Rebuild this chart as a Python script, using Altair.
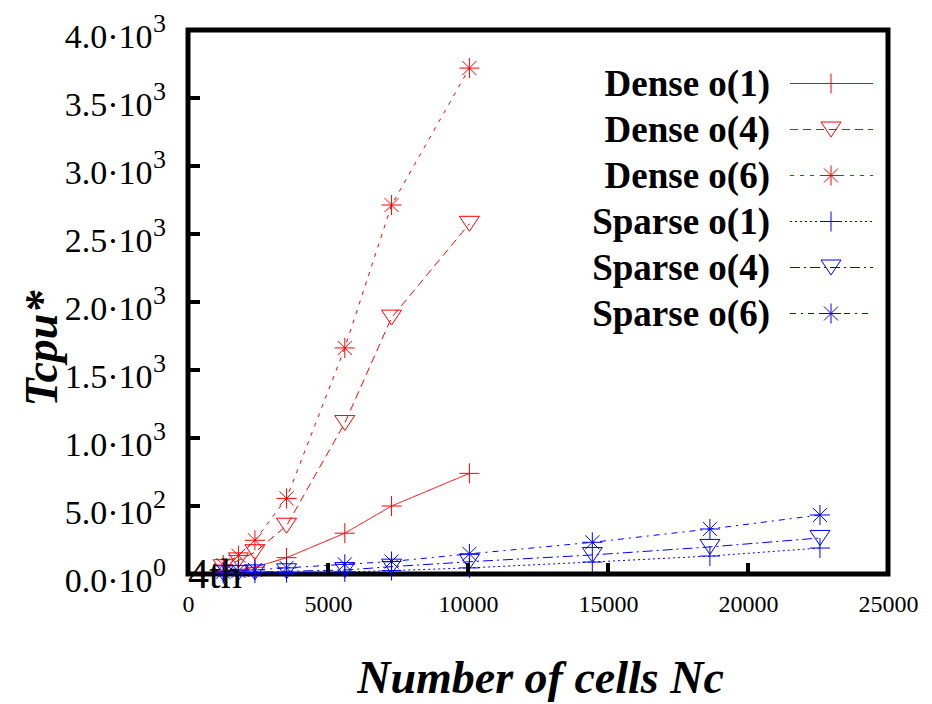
import altair as alt
import pandas as pd

# ---------------- data ----------------
series_names = ["Dense o(1)", "Dense o(4)", "Dense o(6)",
                "Sparse o(1)", "Sparse o(4)", "Sparse o(6)"]

dense_x = [1260, 1800, 2390, 3520, 5600, 7270, 10050]
dense_o1 = [15, 30, 50, 120, 300, 500, 740]
dense_o4 = [50, 100, 160, 355, 1110, 1885, 2575]
dense_o6 = [66, 135, 248, 556, 1662, 2713, 3720]

sparse_x = [1260, 1800, 2390, 3520, 5600, 7270, 10050, 14440, 18640, 22570]
sparse_o1 = [3, 4, 6, 10, 15, 25, 45, 88, 132, 191]
sparse_o4 = [5, 8, 12, 20, 29, 54, 90, 140, 199, 265]
sparse_o6 = [15, 22, 30, 45, 71, 92, 148, 233, 331, 434]

x_tick_values = [0, 5000, 10000, 15000, 20000, 25000]
y_tick_values = [0, 500, 1000, 1500, 2000, 2500, 3000, 3500, 4000]
y_exponents = ["0", "2", "3", "3", "3", "3", "3", "3", "3"]
x_inner_ticks = [5000, 10000, 15000, 20000]
y_inner_ticks = [500, 1000, 1500, 2000, 2500, 3000, 3500]

rows = []
for name, xs, ys in [
    ("Dense o(1)", dense_x, dense_o1),
    ("Dense o(4)", dense_x, dense_o4),
    ("Dense o(6)", dense_x, dense_o6),
    ("Sparse o(1)", sparse_x, sparse_o1),
    ("Sparse o(4)", sparse_x, sparse_o4),
    ("Sparse o(6)", sparse_x, sparse_o6),
]:
    for xv, yv in zip(xs, ys):
        rows.append({"series": name, "x": xv, "y": yv})
df = pd.DataFrame(rows)

legend_df = pd.DataFrame({"series": series_names, "i": list(range(len(series_names)))})
exp_df = pd.DataFrame({"x": [0] * len(y_tick_values), "y": y_tick_values, "e": y_exponents})
xt_df = pd.DataFrame({"x": x_inner_ticks})
yt_df = pd.DataFrame({"y": y_inner_ticks})
note_df = pd.DataFrame({"x": [0], "y": [0], "t": ["4th"]})

# ---------------- styles ----------------
RED = "#ff0000"
BLUE = "#0000ff"
colors = [RED, RED, RED, BLUE, BLUE, BLUE]
dashes = [[1, 0], [8, 5], [4, 6], [2, 3], [10, 4, 2, 4], [6, 5, 2, 5]]
PLUS = "M-1,0L1,0M0,-1L0,1"
TRI = "M-1,-0.75L1,-0.75L0,0.75Z"
STAR = "M-1,0L1,0M0,-1L0,1M-0.7,-0.7L0.7,0.7M-0.7,0.7L0.7,-0.7"
shapes = [PLUS, TRI, STAR, PLUS, TRI, STAR]

color_scale = alt.Scale(domain=series_names, range=colors)
dash_scale = alt.Scale(domain=series_names, range=dashes)
shape_scale = alt.Scale(domain=series_names, range=shapes)

xscale = alt.Scale(domain=[0, 25000], nice=False, zero=False)
yscale = alt.Scale(domain=[0, 4000], nice=False, zero=False)

W, H = 700, 544
SERIF = "Liberation Serif"

x_axis = alt.Axis(
    values=x_tick_values, format="d", grid=False, domain=False, ticks=False, tickSize=0,
    labelFont=SERIF, labelFontSize=24, labelColor="black", labelPadding=18,
    labelFlush=False, labelBaseline="top",
    title="Number of cells Nc", titleFont=SERIF, titleFontSize=46,
    titleFontStyle="italic", titleFontWeight="bold", titleColor="black",
    titleBaseline="alphabetic", titleY=118, titleX=W / 2 + 2,
)
y_axis = alt.Axis(
    values=y_tick_values, grid=False, domain=False, ticks=False, tickSize=0,
    labelExpr="datum.value == 0 ? '0.0·10' : (datum.value < 1000 ? format(datum.value/100, '.1f') + '·10' : format(datum.value/1000, '.1f') + '·10')",
    labelFont=SERIF, labelFontSize=34, labelColor="black", labelPadding=36,
    labelFlush=False, labelBaseline="alphabetic", labelOffset=17, labelAlign="right",
    title="Tcpu*", titleFont=SERIF, titleFontSize=46,
    titleFontStyle="italic", titleFontWeight="bold", titleColor="black",
    titleAngle=270, titleBaseline="middle", titleX=-146, titleY=318,
)

X = lambda f: alt.X(f, type="quantitative", scale=xscale, axis=x_axis)
Y = lambda f: alt.Y(f, type="quantitative", scale=yscale, axis=y_axis)

base = alt.Chart(df)
lines = base.mark_line(strokeWidth=1, clip=False).encode(
    x=X("x"), y=Y("y"),
    color=alt.Color("series:N", scale=color_scale, legend=None),
    strokeDash=alt.StrokeDash("series:N", scale=dash_scale, legend=None),
    detail="series:N",
)
points = base.mark_point(filled=False, strokeWidth=1, size=400, opacity=1).encode(
    x=X("x"), y=Y("y"),
    color=alt.Color("series:N", scale=color_scale, legend=None),
    shape=alt.Shape("series:N", scale=shape_scale, legend=None),
)

# inward ticks
yticks = alt.Chart(yt_df).mark_rule(color="black", strokeWidth=4).encode(
    y=Y("y"), x=alt.value(0), x2=alt.value(12),
)
xticks = alt.Chart(xt_df).mark_rule(color="black", strokeWidth=4).encode(
    x=X("x"), y=alt.value(H - 11), y2=alt.value(H),
)

# exponents of the y labels
exps = alt.Chart(exp_df).mark_text(
    font=SERIF, fontSize=26, color="black", align="left", baseline="alphabetic", dy=2, dx=-35
).encode(
    x=X("x"), y=Y("y"), text="e:N",
)

# stray annotation
note = alt.Chart(note_df).mark_text(
    font=SERIF, fontSize=42, color="black", align="left", baseline="alphabetic", dy=14, dx=0
).encode(
    x=X("x"), y=Y("y"), text="t:N",
)

# legend (labels left of the samples, as in the reference)
leg = alt.Chart(legend_df).transform_calculate(ly="53.5 + 46 * datum.i")
leg_text = leg.mark_text(
    font=SERIF, fontSize=37, fontWeight="bold", color="black",
    align="right", baseline="alphabetic", dy=12
).encode(
    x=alt.value(582), y=alt.Y("ly:Q", scale=None), text="series:N",
)
leg_line = leg.mark_rule(strokeWidth=1).encode(
    x=alt.value(602), x2=alt.value(685),
    y=alt.Y("ly:Q", scale=None),
    color=alt.Color("series:N", scale=color_scale, legend=None),
    strokeDash=alt.StrokeDash("series:N", scale=dash_scale, legend=None),
)
leg_pt = leg.mark_point(filled=False, strokeWidth=1, size=400, opacity=1).encode(
    x=alt.value(643),
    y=alt.Y("ly:Q", scale=None),
    color=alt.Color("series:N", scale=color_scale, legend=None),
    shape=alt.Shape("series:N", scale=shape_scale, legend=None),
)

chart = alt.layer(
    lines, points, yticks, xticks, exps, note, leg_text, leg_line, leg_pt
).properties(
    width=W, height=H,
    autosize=alt.AutoSizeParams(type="none"),
    padding={"left": 180, "top": 22, "right": 36, "bottom": 128},
    background="white",
).configure_view(
    stroke="black", strokeWidth=5
)

chart.save("out.html", embed_options={"renderer": "svg", "actions": False})
